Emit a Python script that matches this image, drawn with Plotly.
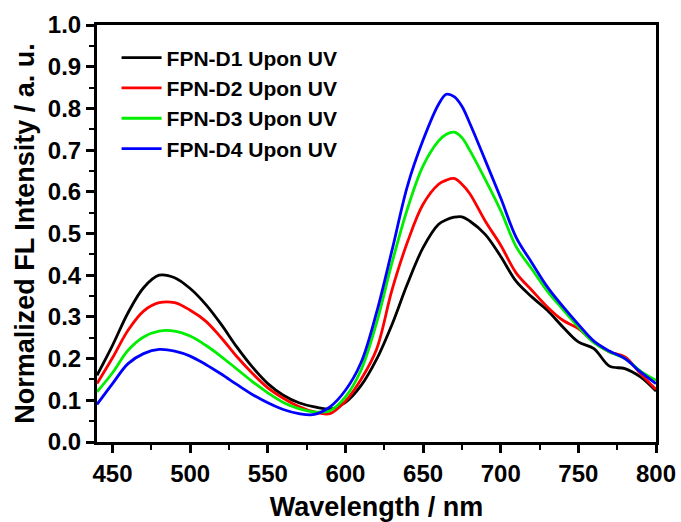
import plotly.graph_objects as go

wavelength = [440, 450, 460, 470, 480, 490, 500, 510, 520, 530, 540, 550, 560, 570, 580, 590,
              600, 610, 620, 630, 640, 650, 660, 665, 670, 675, 680, 690, 700, 710, 720, 730,
              740, 750, 760, 770, 780, 790, 800]

fpn_d1 = [0.160, 0.232, 0.310, 0.370, 0.400, 0.394, 0.368, 0.330, 0.282, 0.228, 0.180, 0.140,
          0.112, 0.094, 0.084, 0.079, 0.095, 0.135, 0.198, 0.282, 0.380, 0.466, 0.522, 0.533,
          0.539, 0.540, 0.530, 0.498, 0.445, 0.385, 0.348, 0.316, 0.276, 0.240, 0.224, 0.182,
          0.176, 0.156, 0.122]

fpn_d2 = [0.140, 0.202, 0.268, 0.314, 0.334, 0.334, 0.316, 0.290, 0.250, 0.205, 0.165, 0.130,
          0.105, 0.085, 0.072, 0.068, 0.098, 0.150, 0.222, 0.365, 0.480, 0.570, 0.618, 0.628,
          0.632, 0.618, 0.596, 0.530, 0.472, 0.405, 0.364, 0.324, 0.292, 0.272, 0.240, 0.216,
          0.204, 0.164, 0.126]

fpn_d3 = [0.120, 0.166, 0.220, 0.252, 0.266, 0.266, 0.254, 0.232, 0.205, 0.175, 0.145, 0.118,
          0.095, 0.080, 0.072, 0.075, 0.108, 0.172, 0.285, 0.430, 0.560, 0.662, 0.722, 0.738,
          0.743, 0.730, 0.700, 0.630, 0.555, 0.468, 0.415, 0.362, 0.318, 0.276, 0.238, 0.216,
          0.200, 0.170, 0.148]

fpn_d4 = [0.090, 0.140, 0.188, 0.212, 0.222, 0.218, 0.206, 0.186, 0.163, 0.138, 0.114, 0.094,
          0.078, 0.068, 0.066, 0.084, 0.124, 0.190, 0.310, 0.460, 0.615, 0.724, 0.810, 0.834,
          0.828, 0.805, 0.765, 0.676, 0.585, 0.490, 0.430, 0.372, 0.325, 0.282, 0.242, 0.218,
          0.200, 0.168, 0.140]

series_names = ["FPN-D1 Upon UV", "FPN-D2 Upon UV", "FPN-D3 Upon UV", "FPN-D4 Upon UV"]
series_colors = ["#000000", "#FF0000", "#00EE00", "#0000FF"]
series_values = [fpn_d1, fpn_d2, fpn_d3, fpn_d4]

x_ticks = [450, 500, 550, 600, 650, 700, 750, 800]
y_ticks = [0.0, 0.1, 0.2, 0.3, 0.4, 0.5, 0.6, 0.7, 0.8, 0.9, 1.0]

FONT = "Liberation Sans, Arial, sans-serif"

fig = go.Figure()
for name, color, vals in zip(series_names, series_colors, series_values):
    fig.add_trace(go.Scatter(x=wavelength, y=vals, mode="lines", name=name,
                             line=dict(color=color, width=2.8, shape="spline", smoothing=1.0)))

axis_common = dict(showline=True, linewidth=3, linecolor="black", mirror=True,
                   ticks="outside", tickwidth=2.5, ticklen=8, tickcolor="black",
                   showgrid=False, zeroline=False, automargin=False,
                   tickfont=dict(family=FONT, size=24, color="black", weight="bold"))

fig.update_xaxes(range=[440, 800], tickvals=x_ticks,
                 ticktext=[str(v) for v in x_ticks],
                 minor=dict(dtick=25, tick0=425, ticks="outside", ticklen=5, tickwidth=2, tickcolor="black", showgrid=False),
                 title=dict(text="<b>Wavelength / nm</b>", font=dict(family=FONT, size=27, color="black"), standoff=12),
                 **axis_common)
fig.update_yaxes(range=[0, 1.0], tickvals=y_ticks,
                 ticktext=[f"{v:.1f}" for v in y_ticks],
                 minor=dict(dtick=0.05, tick0=0, ticks="outside", ticklen=5, tickwidth=2, tickcolor="black", showgrid=False),
                 title=dict(text="<b>Normalized FL Intensity / a. u.</b>", font=dict(family=FONT, size=27, color="black"), standoff=6),
                 **axis_common)

fig.update_layout(
    width=681, height=522,
    margin=dict(l=97, r=25, t=25, b=80),
    plot_bgcolor="white", paper_bgcolor="white",
    legend=dict(x=0.035, y=0.97, xanchor="left", yanchor="top",
                bgcolor="rgba(0,0,0,0)", borderwidth=0,
                font=dict(family=FONT, size=21, color="black", weight="bold"),
                itemwidth=40, tracegroupgap=0),
)

fig.write_html("out.html")
